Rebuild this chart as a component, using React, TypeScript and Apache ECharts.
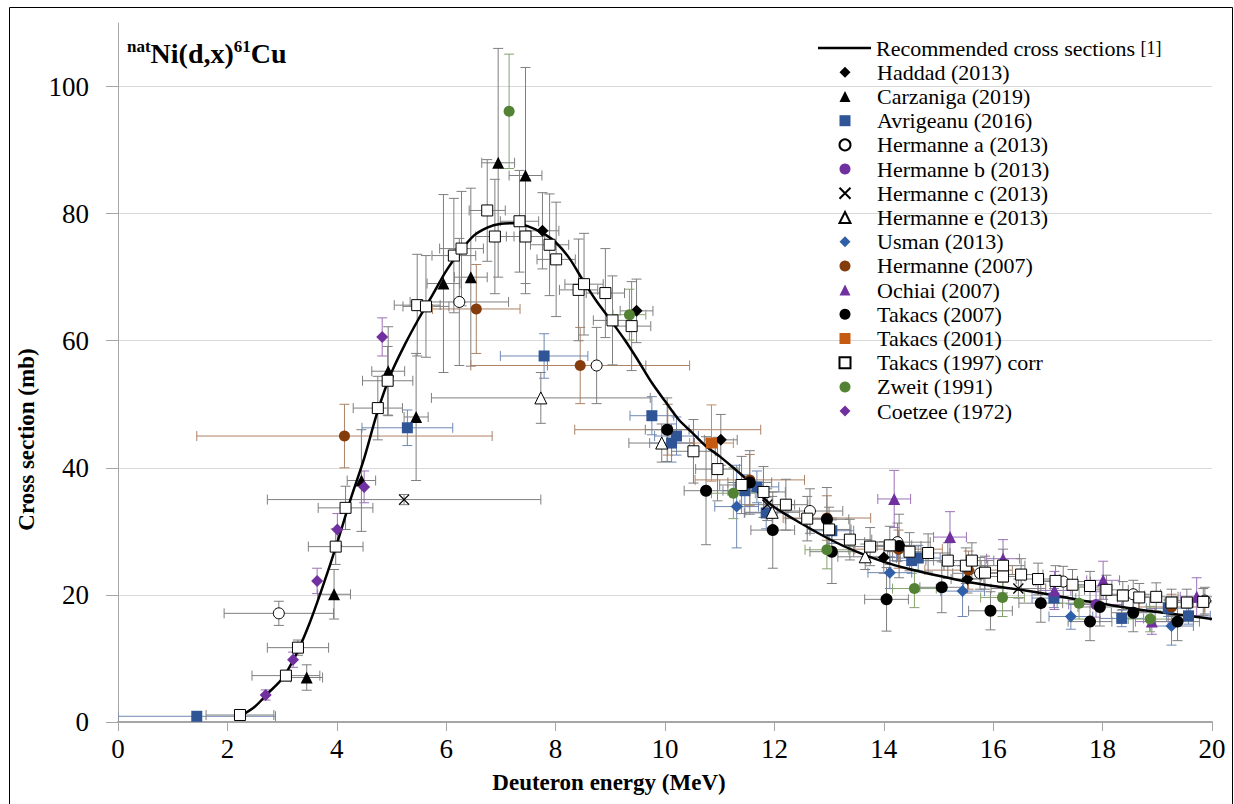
import { useEffect, useRef } from "react";
import * as echarts from "echarts";

// Recommended curve [E (MeV), sigma (mb)]
const recommended: number[][] = [
  [2.25, 1.0], [2.5, 2.4], [2.75, 4.6], [3.0, 6.8], [3.25, 10.5], [3.5, 15.5], [3.75, 21.5],
  [4.0, 28.0], [4.25, 35.0], [4.5, 41.5], [4.75, 49.0], [5.0, 55.0], [5.25, 59.5], [5.5, 63.5],
  [5.75, 67.2], [6.0, 71.0], [6.25, 74.0], [6.5, 76.5], [6.75, 77.8], [7.0, 78.4], [7.25, 78.5],
  [7.5, 78.0], [7.75, 77.0], [8.0, 75.5], [8.25, 73.0], [8.5, 69.5], [8.75, 66.2], [9.0, 63.3],
  [9.25, 60.3], [9.5, 57.0], [9.75, 53.5], [10.0, 50.5], [10.25, 47.6], [10.5, 45.5],
  [10.75, 43.4], [11.0, 41.8], [11.25, 40.0], [11.5, 38.1], [11.75, 35.7], [12.0, 33.8],
  [12.5, 31.2], [13.0, 28.8], [13.5, 26.8], [14.0, 25.2], [14.5, 24.0], [15.0, 23.0],
  [15.5, 22.1], [16.0, 21.4], [16.5, 20.8], [17.0, 20.1], [17.5, 19.3], [18.0, 18.6],
  [18.5, 17.9], [19.0, 17.3], [19.5, 16.8], [20.0, 16.2],
];

// Experimental data rows: [E, sigma, dE, dSigma]
const haddad: number[][] = [
  [7.76, 77.3, 0.3, 6], [9.48, 64.7, 0.3, 5], [11.02, 44.4, 0.3, 4], [14.0, 25.9, 0.3, 2.5], [15.53, 22.5, 0.3, 2.2],
];
const carzaniga: number[][] = [
  [3.45, 7.0, 0.29, 2], [3.95, 20.1, 0.3, 3.9], [4.45, 38.0, 0.26, 8], [4.94, 55.2, 0.3, 7],
  [5.45, 48.0, 0.22, 10], [5.95, 69.0, 0.3, 14], [6.45, 70.0, 0.3, 14], [6.95, 88.0, 0.3, 18], [7.45, 86.0, 0.3, 17],
];
const avrigeanu: number[][] = [
  [1.44, 0.9, 1.44, 0.2], [5.29, 46.3, 0.83, 2.8], [7.79, 57.6, 0.8, 3.5], [9.76, 48.2, 0.4, 3],
  [10.12, 43.9, 0.4, 3], [10.21, 45.0, 0.4, 3], [11.46, 36.4, 0.4, 2.5], [11.68, 37.0, 0.4, 2.5],
  [11.85, 32.9, 0.4, 2.5], [13.05, 30.1, 0.4, 2], [14.51, 25.4, 0.4, 2], [14.63, 25.8, 0.4, 2],
  [17.11, 19.5, 0.4, 1.5], [18.35, 16.3, 0.4, 1.3], [19.2, 17.9, 0.4, 1.3], [19.57, 16.7, 0.4, 1.3],
];
const hermanneA: number[][] = [
  [2.94, 17.1, 1.0, 1.9], [6.24, 66.1, 0.9, 10], [8.75, 56.1, 0.9, 6], [12.65, 33.2, 0.6, 3.5],
  [14.25, 28.3, 0.6, 3], [15.76, 23.4, 0.5, 2.5], [17.28, 22.1, 0.5, 2.4], [18.56, 20.1, 0.5, 2.2], [19.87, 19.1, 0.5, 2.1],
];
const hermanneB: number[][] = [[17.88, 18.5, 0.5, 2]];
const hermanneC: number[][] = [[5.23, 35.0, 2.5, 0.8], [11.87, 34.2, 0.5, 2.5], [16.46, 21.0, 0.5, 1.5]];
const hermanneE: number[][] = [[7.73, 51.0, 2.0, 4], [9.94, 43.9, 0.6, 3], [11.96, 33.0, 0.5, 2.5], [13.66, 26.0, 0.5, 2]];
const usman: number[][] = [
  [11.31, 33.9, 0.4, 6.5], [14.11, 23.5, 0.4, 2.5], [15.44, 20.6, 0.4, 4], [17.42, 16.6, 0.4, 2], [19.26, 15.1, 0.4, 3],
];
const hermanne2007: number[][] = [
  [4.14, 45.0, 2.7, 5], [6.55, 65.0, 0.8, 7], [8.45, 56.1, 2.0, 6], [10.05, 46.0, 1.7, 4],
  [11.55, 38.1, 1.0, 4], [12.96, 32.1, 0.8, 3.5], [14.27, 27.2, 0.8, 3], [15.55, 23.9, 0.8, 3], [19.26, 18.1, 0.6, 2],
];
const ochiai: number[][] = [
  [14.19, 35.1, 0.3, 4.5], [15.21, 29.1, 0.3, 4], [16.18, 25.7, 0.3, 3], [17.12, 20.7, 0.3, 3],
  [18.01, 22.3, 0.3, 3], [18.9, 15.8, 0.3, 2], [19.72, 19.7, 0.3, 3],
];
const takacs2007: number[][] = [
  [10.04, 46.0, 0.4, 5], [10.75, 36.4, 0.4, 8.5], [11.55, 37.7, 0.4, 5], [11.97, 30.2, 0.4, 6],
  [12.96, 31.9, 0.4, 5], [13.05, 26.8, 0.4, 5], [14.05, 19.3, 0.4, 5], [14.28, 27.7, 0.4, 5],
  [15.06, 21.2, 0.4, 4], [15.95, 17.5, 0.4, 3], [16.87, 18.7, 0.4, 3], [17.77, 15.8, 0.4, 3],
  [17.95, 18.1, 0.4, 3], [18.56, 17.2, 0.4, 3], [19.37, 15.8, 0.4, 3],
];
const takacs2001: number[][] = [[10.85, 43.9, 0.4, 6]];
const takacs1997: number[][] = [
  [2.23, 1.1, 0.62, 0.2], [3.07, 7.3, 0.62, 0.8], [3.29, 11.7, 0.56, 1.2], [3.98, 27.6, 0.5, 2.8],
  [4.16, 33.7, 0.5, 3.4], [4.75, 49.4, 0.45, 5], [4.93, 53.7, 0.46, 5.4], [5.47, 65.6, 0.42, 8],
  [5.63, 65.4, 0.42, 8], [6.14, 73.4, 0.4, 9], [6.28, 74.5, 0.4, 9], [6.75, 80.5, 0.33, 8],
  [6.89, 76.4, 0.35, 9], [7.34, 78.8, 0.35, 8], [7.45, 76.4, 0.35, 9], [7.89, 75.1, 0.35, 8],
  [8.01, 72.8, 0.35, 9], [8.42, 68.0, 0.35, 8], [8.52, 68.9, 0.35, 8], [8.91, 67.5, 0.35, 7],
  [9.04, 63.2, 0.35, 7], [9.39, 62.3, 0.35, 7], [10.52, 42.6, 0.4, 5], [10.96, 39.8, 0.4, 5],
  [11.4, 37.3, 0.4, 4.5], [11.8, 36.2, 0.4, 4], [12.21, 34.2, 0.4, 4], [12.6, 32.0, 0.4, 3.5],
  [13.0, 30.3, 0.4, 3.5], [13.38, 28.7, 0.4, 3.2], [13.75, 27.6, 0.4, 3], [14.11, 27.8, 0.4, 3],
  [14.47, 26.8, 0.4, 3], [14.81, 26.6, 0.4, 3], [15.17, 25.4, 0.4, 2.8], [15.5, 24.6, 0.4, 2.8],
  [15.61, 25.4, 0.4, 2.8], [15.85, 23.5, 0.4, 2.6], [16.18, 24.6, 0.4, 2.6], [16.18, 22.9, 0.4, 2.6],
  [16.51, 23.2, 0.4, 2.5], [16.82, 22.5, 0.4, 2.5], [17.14, 22.2, 0.4, 2.4], [17.45, 21.6, 0.4, 2.4],
  [17.77, 21.4, 0.4, 2.3], [18.07, 20.8, 0.4, 2.3], [18.37, 19.9, 0.4, 2.2], [18.67, 19.6, 0.4, 2.2],
  [18.98, 19.7, 0.4, 2.2], [19.26, 18.8, 0.4, 2.1], [19.54, 18.8, 0.4, 2.1], [19.84, 18.9, 0.4, 2.1],
];
const zweit: number[][] = [
  [7.15, 96.1, 0, 9], [9.35, 64.1, 0.3, 4], [11.25, 36.0, 0.4, 4], [12.96, 27.1, 0.4, 3],
  [14.56, 21.0, 0.4, 3], [16.17, 19.6, 0.4, 3], [17.57, 18.7, 0.4, 2.5], [18.87, 16.2, 0.4, 2],
];
const coetzee: number[][] = [
  [2.7, 4.25, 0, 0.8], [3.2, 9.8, 0, 1.2], [3.64, 22.2, 0, 2], [4.01, 30.3, 0, 2.5], [4.5, 37.0, 0, 2.5], [4.83, 60.6, 0, 3],
];

const xTicks = [0, 2, 4, 6, 8, 10, 12, 14, 16, 18, 20];
const yTicks = [0, 20, 40, 60, 80, 100];

const REC = "Recommended cross sections";
const CROSS = "path://M0,0L10,10M10,0L0,10";

const sets = [
  { name: "Haddad (2013)", data: haddad, symbol: "diamond", size: 12, fill: "#000000", stroke: "#000000", bw: 0, err: "#7f7f7f" },
  { name: "Carzaniga (2019)", data: carzaniga, symbol: "triangle", size: 12, fill: "#000000", stroke: "#000000", bw: 0, err: "#7f7f7f" },
  { name: "Avrigeanu (2016)", data: avrigeanu, symbol: "rect", size: 11, fill: "#2f5597", stroke: "#2f5597", bw: 0, err: "#7088b4" },
  { name: "Hermanne a (2013)", data: hermanneA, symbol: "circle", size: 11, fill: "#ffffff", stroke: "#000000", bw: 1, err: "#7f7f7f" },
  { name: "Hermanne b (2013)", data: hermanneB, symbol: "circle", size: 11, fill: "#7030a0", stroke: "#7030a0", bw: 0, err: "#9b72b8" },
  { name: "Hermanne c (2013)", data: hermanneC, symbol: CROSS, size: 10, fill: "rgba(0,0,0,0)", stroke: "#000000", bw: 1.3, err: "#7f7f7f" },
  { name: "Hermanne e (2013)", data: hermanneE, symbol: "triangle", size: 12, fill: "#ffffff", stroke: "#000000", bw: 1, err: "#7f7f7f" },
  { name: "Usman (2013)", data: usman, symbol: "diamond", size: 12, fill: "#2f5fa8", stroke: "#2f5fa8", bw: 0, err: "#7088b4" },
  { name: "Hermanne (2007)", data: hermanne2007, symbol: "circle", size: 11, fill: "#843c0c", stroke: "#843c0c", bw: 0, err: "#ad8266" },
  { name: "Ochiai (2007)", data: ochiai, symbol: "triangle", size: 12, fill: "#7030a0", stroke: "#7030a0", bw: 0, err: "#9b72b8" },
  { name: "Takacs (2007)", data: takacs2007, symbol: "circle", size: 12, fill: "#000000", stroke: "#000000", bw: 0, err: "#7f7f7f" },
  { name: "Takacs (2001)", data: takacs2001, symbol: "rect", size: 11, fill: "#c55a11", stroke: "#c55a11", bw: 0, err: "#c58a60" },
  { name: "Takacs (1997) corr", data: takacs1997, symbol: "rect", size: 11, fill: "#ffffff", stroke: "#000000", bw: 1, err: "#7f7f7f" },
  { name: "Zweit (1991)", data: zweit, symbol: "circle", size: 11, fill: "#548235", stroke: "#548235", bw: 0, err: "#86a36f" },
  { name: "Coetzee (1972)", data: coetzee, symbol: "diamond", size: 12, fill: "#7030a0", stroke: "#7030a0", bw: 0, err: "#9b72b8" },
];

function errRenderer(color: string) {
  return (_params: any, api: any) => {
    const x = api.value(0);
    const y = api.value(1);
    const dx = api.value(2);
    const dy = api.value(3);
    const c = api.coord([x, y]);
    const cap = 5;
    const style = { stroke: color, lineWidth: 1 };
    const children: any[] = [];
    if (dx > 0) {
      const l = api.coord([Math.max(x - dx, 0), y])[0];
      const r = api.coord([x + dx, y])[0];
      children.push({ type: "line", shape: { x1: l, y1: c[1], x2: r, y2: c[1] }, style });
      children.push({ type: "line", shape: { x1: l, y1: c[1] - cap, x2: l, y2: c[1] + cap }, style });
      children.push({ type: "line", shape: { x1: r, y1: c[1] - cap, x2: r, y2: c[1] + cap }, style });
    }
    if (dy > 0) {
      const t = api.coord([x, y + dy])[1];
      const b = api.coord([x, Math.max(y - dy, 0)])[1];
      children.push({ type: "line", shape: { x1: c[0], y1: t, x2: c[0], y2: b }, style });
      children.push({ type: "line", shape: { x1: c[0] - cap, y1: t, x2: c[0] + cap, y2: t }, style });
      children.push({ type: "line", shape: { x1: c[0] - cap, y1: b, x2: c[0] + cap, y2: b }, style });
    }
    return { type: "group", children };
  };
}

const FONT = "Liberation Serif";

export default function App() {
  const ref = useRef<HTMLDivElement>(null);
  useEffect(() => {
    if (!ref.current) return;
    const chart = echarts.init(ref.current, undefined, { renderer: "svg" });

    const errSeries = sets.map((s) => ({
      type: "custom",
      name: s.name + " err",
      data: s.data,
      renderItem: errRenderer(s.err),
      clip: true,
      z: 1,
      silent: true,
    }));
    const scatterSeries = sets.map((s) => ({
      type: "scatter",
      name: s.name,
      data: s.data.map((d) => [d[0], d[1]]),
      symbol: s.symbol,
      symbolSize: s.size,
      itemStyle: { color: s.fill, borderColor: s.stroke, borderWidth: s.bw, opacity: 1 },
      z: 3,
    }));

    const legendText = {
      fontFamily: FONT,
      fontSize: 22,
      lineHeight: 24,
      color: "#000",
    };

    chart.setOption({
      animation: false,
      grid: { left: 118, right: 22, top: 23, bottom: 82 },
      graphic: [
        {
          type: "rect",
          shape: { x: 9.5, y: 7.5, width: 1223, height: 800 },
          style: { fill: "none", stroke: "#000", lineWidth: 1 },
          silent: true,
        },
        {
          type: "text",
          left: 127,
          top: 38,
          style: {
            text: "{s|nat}{m|Ni(d,x)}{s|61}{m|Cu}",
            fill: "#000",
            rich: {
              s: { fontFamily: FONT, fontWeight: "bold", fontSize: 17, verticalAlign: "top", fill: "#000" },
              m: { fontFamily: FONT, fontWeight: "bold", fontSize: 28, lineHeight: 30, fill: "#000" },
            },
          },
        },
      ],
      legend: [
        {
          orient: "vertical",
          left: 818,
          top: 36,
          itemWidth: 53,
          itemHeight: 11,
          padding: 0,
          data: [{ name: REC, icon: "path://M0,0L53,0L53,2.5L0,2.5Z", itemStyle: { color: "#000" } }],
          textStyle: { ...legendText, rich: { r: { fontFamily: FONT, fontSize: 18, color: "#000" } } },
          formatter: () => `${REC} {r|[1]}`,
          selectedMode: false,
        },
        {
          orient: "vertical",
          left: 838.5,
          top: 60.3,
          itemWidth: 11,
          itemHeight: 11,
          itemGap: 0.2,
          padding: 0,
          data: sets.map((s) => s.name),
          textStyle: { ...legendText, padding: [0, 0, 0, 21.5] },
          selectedMode: false,
        },
      ],
      xAxis: {
        type: "value",
        min: 0,
        max: 20,
        interval: 2,
        name: "Deuteron energy (MeV)",
        nameLocation: "middle",
        nameGap: 49,
        nameTextStyle: { fontFamily: FONT, fontSize: 23, fontWeight: "bold", color: "#000", padding: [0, 112, 0, 0] },
        axisLine: { show: true, onZero: false, lineStyle: { color: "#a6a6a6", width: 2 } },
        axisTick: { show: true, length: 9, inside: false, lineStyle: { color: "#a6a6a6" }, customValues: xTicks },
        axisLabel: { fontFamily: FONT, fontSize: 27, color: "#000", margin: 13, customValues: xTicks },
        splitLine: { show: false },
      },
      yAxis: {
        type: "value",
        min: 0,
        max: 110,
        interval: 20,
        name: "Cross section (mb)",
        nameLocation: "middle",
        nameGap: 76,
        nameTextStyle: { fontFamily: FONT, fontSize: 23, fontWeight: "bold", color: "#000", padding: [0, 134, 0, 0] },
        axisLine: { show: true, lineStyle: { color: "#a6a6a6", width: 1 } },
        axisTick: { show: true, length: 12, inside: false, lineStyle: { color: "#a6a6a6" }, customValues: yTicks },
        axisLabel: { fontFamily: FONT, fontSize: 27, color: "#000", margin: 29, customValues: yTicks },
        splitLine: {
          show: true,
          lineStyle: {
            color: ["#d9d9d9", "#d9d9d9", "#d9d9d9", "#d9d9d9", "#d9d9d9", "#d9d9d9", "rgba(0,0,0,0)"],
            width: 1,
          },
        },
      },
      series: [
        ...errSeries,
        {
          type: "line",
          name: REC,
          data: recommended,
          smooth: 0.3,
          symbol: "none",
          color: "#000",
          lineStyle: { color: "#000", width: 2.5 },
          z: 2,
        },
        ...scatterSeries,
      ],
    });
    return () => chart.dispose();
  }, []);
  return <div ref={ref} style={{ position: "fixed", left: 0, top: 0, width: 1234, height: 804, background: "#fff" }} />;
}
